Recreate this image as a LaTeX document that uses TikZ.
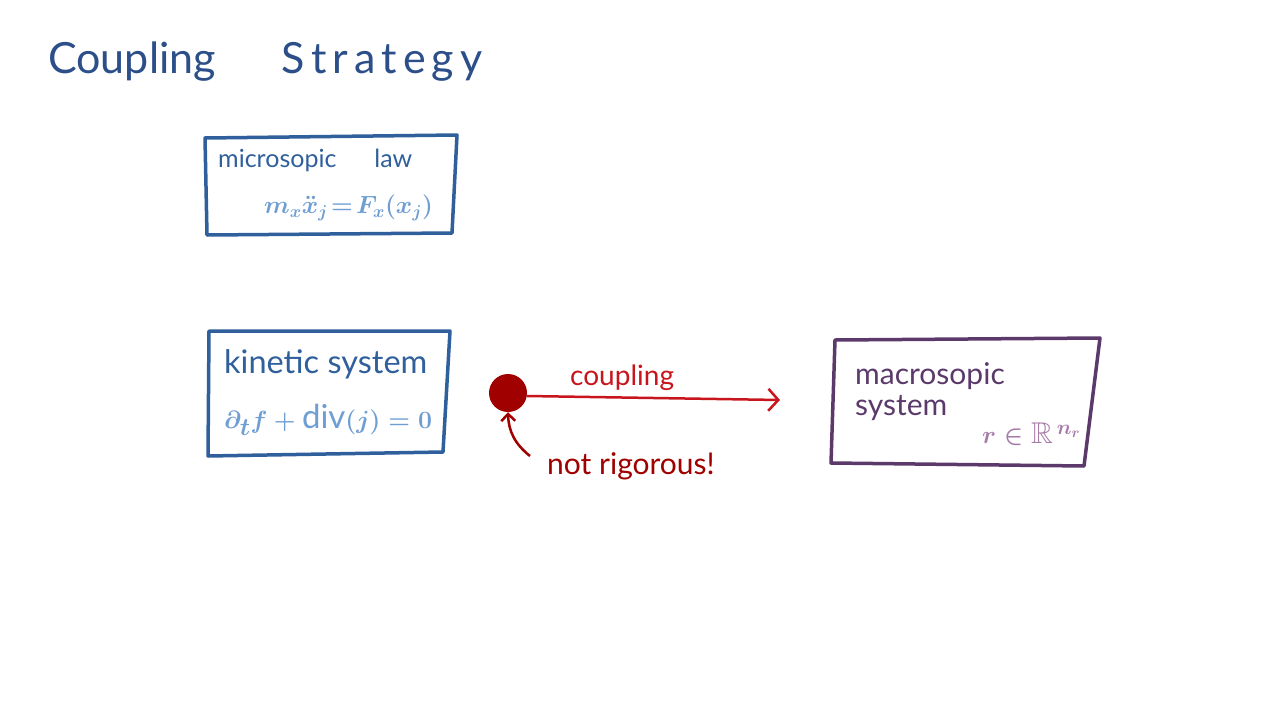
\documentclass[tikz,border=0pt]{standalone}
\usepackage{fontspec}
\usepackage{amsmath,amssymb}
\setmainfont{Lato}
\usetikzlibrary{arrows.meta}
\definecolor{titleblue}{HTML}{2C4F8A}
\definecolor{boxblue}{HTML}{30609C}
\definecolor{lightblue}{HTML}{6E9ED3}
\definecolor{darkred}{HTML}{A00000}
\definecolor{arrowred}{HTML}{C8141C}
\definecolor{plum}{HTML}{5B3A6B}
\definecolor{lightplum}{HTML}{A67BA8}
\tikzset{
  sketchbox/.style={line width=3.5pt, line join=round, line cap=round},
  lbl/.style={inner sep=0pt, anchor=west},
}
\begin{document}
\begin{tikzpicture}[x=1pt,y=-1pt]
\useasboundingbox[fill=white] (0,0) rectangle (1280,720);
% title
\node[lbl, text=titleblue, font=\fontsize{43}{50}\selectfont] (title) at (48,62) {Coupling\hspace{66pt}S\hspace{6pt}t\hspace{6pt}r\hspace{6pt}a\hspace{6pt}t\hspace{6pt}e\hspace{6pt}g\hspace{6pt}y};
% microscopic box
\draw[sketchbox, boxblue] (205,138) -- (457,135) -- (452,233) -- (207,235) -- cycle;
\node[lbl, text=boxblue, font=\fontsize{25}{28}\selectfont] (micro) at (218,160) {microsopic\hspace{38pt}law};
\node[lbl, text=lightblue, font=\fontsize{25}{30}\selectfont\boldmath] (microeq) at (264,208) {$m_x\ddot{x}_j\!=\!F_x(x_j)$};
% kinetic box
\draw[sketchbox, boxblue] (209,331) -- (450,331) -- (443,452) -- (208,456) -- cycle;
\node[lbl, text=boxblue, font=\fontsize{32.5}{36}\selectfont] (kin) at (224,364) {kinetic system};
\node[lbl, text=lightblue, font=\fontsize{33}{36}\selectfont\boldmath] (kineq) at (224,420) {$\partial_t f + \text{div}(j) = 0$};
% dot and coupling arrow
\node[circle, fill=darkred, minimum size=38pt, inner sep=0pt] (dot) at (508,393) {};
\coordinate (arrowend) at (780,400);
\draw[line width=2.5pt, arrowred, -{Straight Barb[length=10pt,width=22pt,line width=2.5pt]}] (dot.east) ++(0,3) -- (arrowend);
\node[lbl, text=arrowred, font=\fontsize{28}{30}\selectfont] (coup) at (570,378) {coupling};
% not rigorous
\coordinate (noteend) at (530,456);
\draw[line width=2.5pt, darkred, -{Straight Barb[length=7pt,width=14pt,line width=2.5pt]}] (noteend) to[bend left=25] (dot.south);
\node[lbl, text=darkred, font=\fontsize{30}{32}\selectfont] (note) at (547,466) {not rigorous!};
% macroscopic box
\draw[sketchbox, plum] (835,340) -- (1100,338) -- (1084,466) -- (831,463) -- cycle;
\node[lbl, text=plum, font=\fontsize{30}{32}\selectfont] (macro) at (855,376) {macrosopic};
\node[lbl, text=plum, font=\fontsize{30}{32}\selectfont] (macrosys) at (855,408) {system};
\node[lbl, text=lightplum, font=\fontsize{30}{34}\selectfont\boldmath] (macroeq) at (982,434) {$r \in \mathbb{R}^{\,n_r}$};
\end{tikzpicture}
\end{document}
